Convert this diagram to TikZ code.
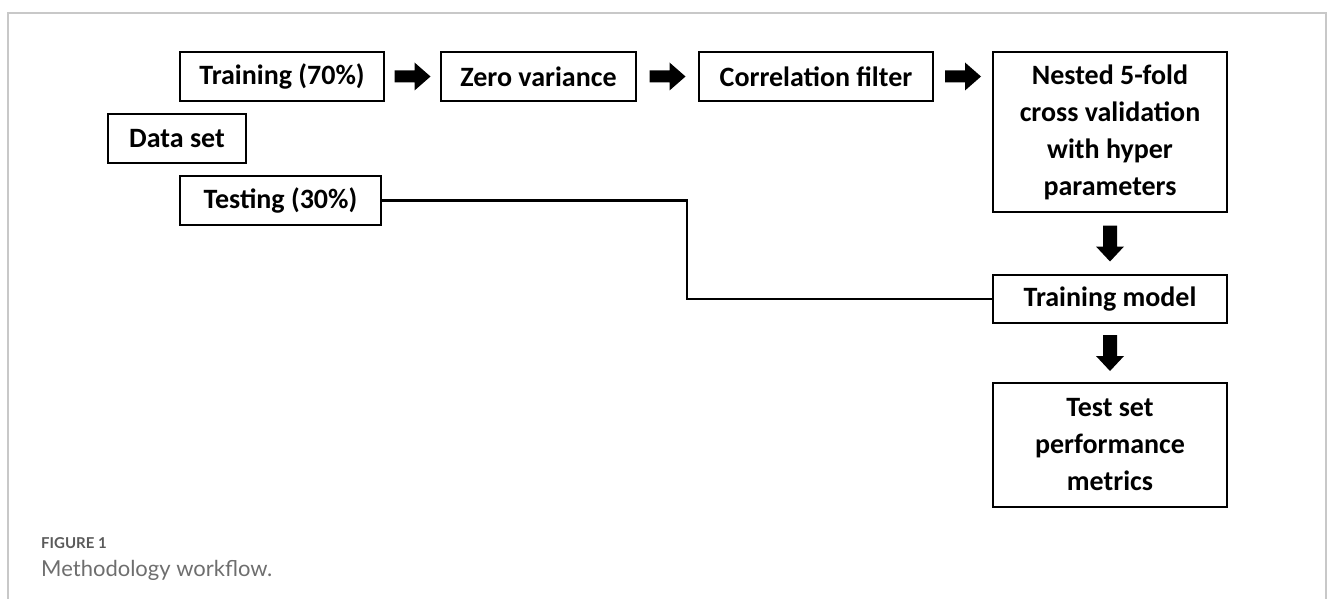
\documentclass[tikz,border=0pt]{standalone}
\usepackage{fontspec}
\setmainfont{Carlito}
\newfontfamily\capfont{Lato}
\usetikzlibrary{calc}
\definecolor{framegray}{HTML}{C8C8C8}
\definecolor{capgray}{HTML}{5A5A5A}
\definecolor{capgraylight}{HTML}{6E6E6E}
\tikzset{
  box/.style={draw=black, line width=1.8pt, rectangle, inner sep=0pt, align=center,
    font=\bfseries\fontsize{28}{37}\selectfont},
  link/.style={draw=black, line width=2.4pt},
  blockarrow/.style={fill=black}
}
\begin{document}
\begin{tikzpicture}[x=1pt,y=-1pt]
\useasboundingbox (0,0) rectangle (1333,599);
% frame
\draw[framegray, line width=1.5pt] (8,599) -- (8,13) -- (1326,13) -- (1326,599);

% nodes
\node[box, minimum width=204pt, minimum height=49pt] (tr) at (282,76.5) {Training (70\%)};
\node[box, minimum width=195pt, minimum height=49pt] (zv) at (538.5,76.5) {Zero variance};
\node[box, minimum width=234pt, minimum height=49pt] (cf) at (816,76.5) {Correlation filter};
\node[box, minimum width=234pt, minimum height=160pt] (ne) at (1110,132) {Nested 5-fold\\cross validation\\with hyper\\parameters};
\node[box, minimum width=234pt, minimum height=48pt] (tm) at (1110,299) {Training model};
\node[box, minimum width=234pt, minimum height=124pt] (ts) at (1110,445) {Test set\\performance\\metrics};
\node[box, minimum width=138pt, minimum height=49pt] (ds) at (177,138.5) {Data set};
\node[box, minimum width=201pt, minimum height=49pt] (te) at (280.5,200.5) {Testing (30\%)};

% connector testing -> training model
\coordinate (bend) at (687,0);
\draw[link] (te.east) -- (te.east -| bend) -- (tm.west -| bend) -- (tm.west);

% horizontal block arrows
\foreach \a/\b in {tr/zv, zv/cf, cf/ne}{
  \fill[blockarrow] ($(\a.east |- tr.center)!0.5!(\b.west |- tr.center)$)
    ++(-18,-6) -- ++(20,0) -- ++(0,-8) -- ++(16,14) -- ++(-16,14) -- ++(0,-8) -- ++(-20,0) -- cycle;
}
% vertical block arrows
\foreach \a/\b in {ne/tm, tm/ts}{
  \fill[blockarrow] ($(\a.south)!0.5!(\b.north)$)
    ++(-7,-18) -- ++(0,21) -- ++(-7,0) -- ++(14,15) -- ++(14,-15) -- ++(-7,0) -- ++(0,-21) -- cycle;
}

% caption
\node[anchor=base west, inner sep=0pt, text=capgray, font=\capfont\bfseries\fontsize{15}{17}\selectfont] (fig) at (41,548) {FIGURE 1};
\node[anchor=base west, inner sep=0pt, text=capgraylight, font=\capfont\fontsize{22}{24}\selectfont] (cap) at (41,576) {Methodology workflow.};
\end{tikzpicture}
\end{document}
